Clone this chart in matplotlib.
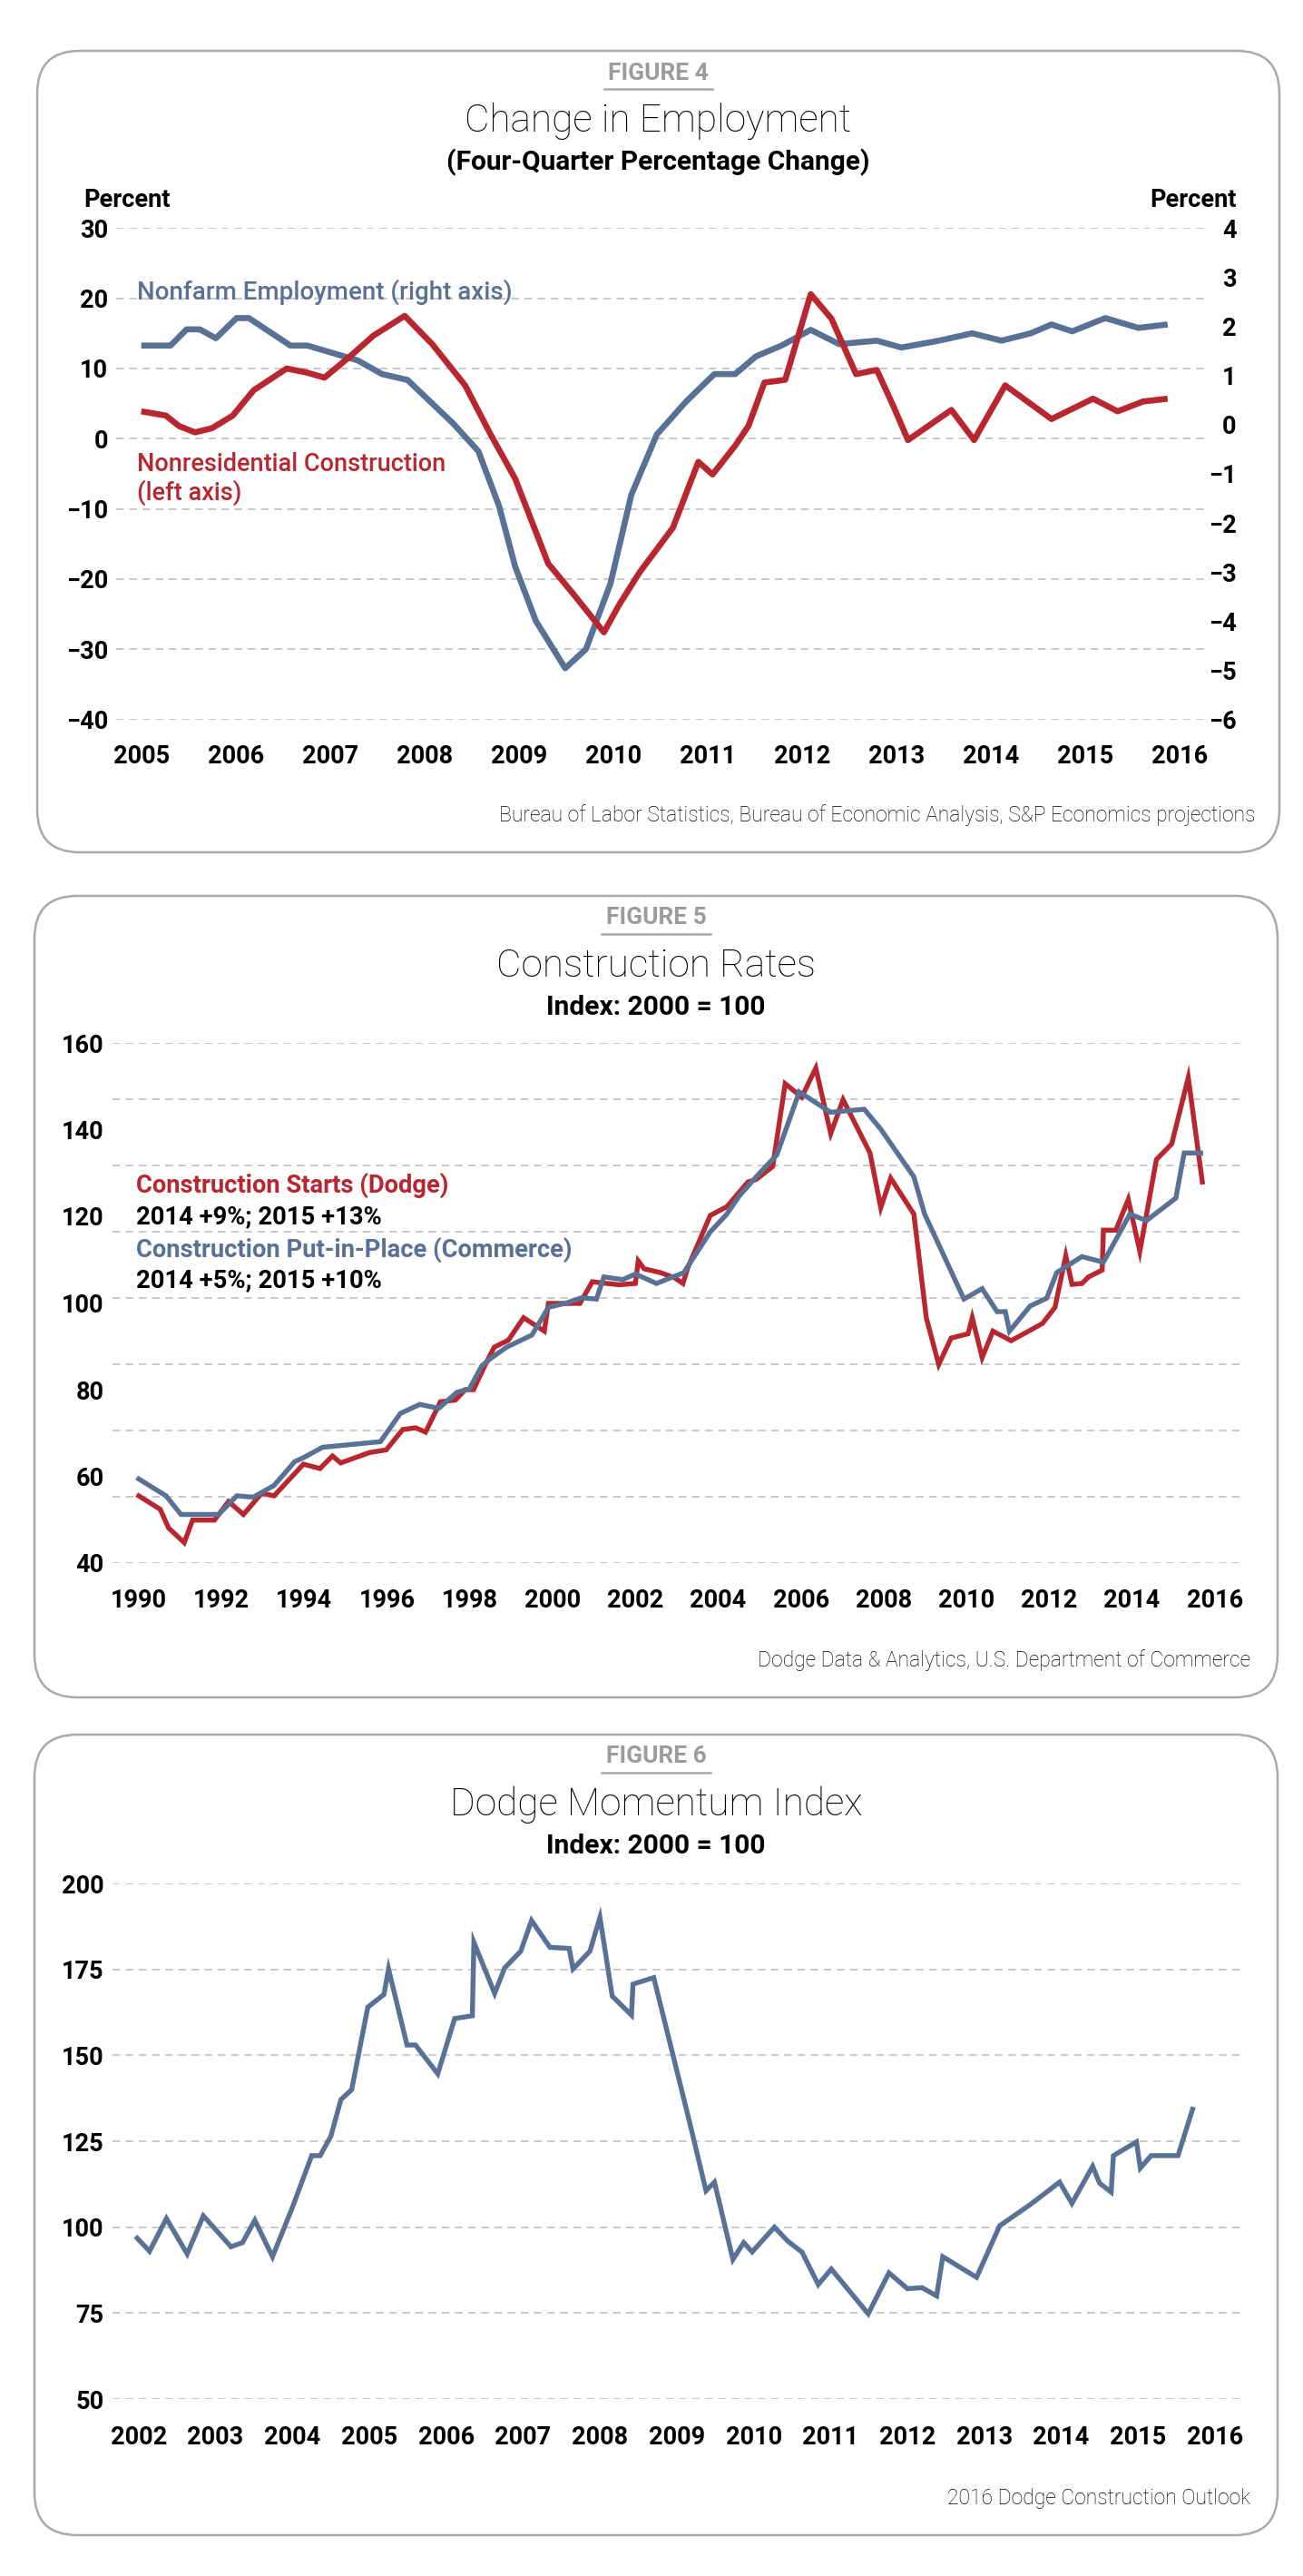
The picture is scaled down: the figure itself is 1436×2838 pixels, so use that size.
import matplotlib
matplotlib.use("Agg")
import matplotlib.pyplot as plt
from matplotlib.patches import FancyBboxPatch
from matplotlib.lines import Line2D

plt.rcParams['font.family'] = ['Roboto', 'DejaVu Sans']

# ---------------- data ----------------
# Figure 4: Change in Employment
nonfarm_years = [2005.00, 2005.31, 2005.48, 2005.62, 2005.79, 2006.01, 2006.14, 2006.58, 2006.76,
                 2007.29, 2007.55, 2007.82, 2008.30, 2008.57, 2008.79, 2008.96, 2009.18, 2009.49,
                 2009.71, 2009.97, 2010.19, 2010.46, 2010.77, 2011.07, 2011.29, 2011.51, 2011.78,
                 2012.09, 2012.39, 2012.79, 2013.05, 2013.45, 2013.80, 2014.11, 2014.42, 2014.64,
                 2014.86, 2015.21, 2015.56, 2015.87]
nonfarm_pct = [1.61, 1.61, 1.94, 1.94, 1.76, 2.17, 2.17, 1.61, 1.61,
               1.31, 1.03, 0.91, 0.03, -0.54, -1.66, -2.89, -4.00, -4.96,
               -4.57, -3.23, -1.43, -0.20, 0.47, 1.03, 1.03, 1.39, 1.61,
               1.93, 1.64, 1.71, 1.57, 1.71, 1.86, 1.71, 1.86, 2.04,
               1.90, 2.17, 1.97, 2.04]

nonres_years = [2005.00, 2005.26, 2005.40, 2005.57, 2005.75, 2005.97, 2006.19, 2006.54, 2006.76,
                2006.94, 2007.20, 2007.46, 2007.79, 2008.08, 2008.43, 2008.70, 2008.96, 2009.31,
                2009.58, 2009.90, 2010.06, 2010.28, 2010.63, 2010.90, 2011.05, 2011.29, 2011.43,
                2011.60, 2011.82, 2012.09, 2012.31, 2012.57, 2012.79, 2012.97, 2013.12, 2013.58,
                2013.82, 2014.15, 2014.64, 2015.08, 2015.34, 2015.61, 2015.87]
nonres_pct = [3.9, 3.3, 1.8, 0.9, 1.5, 3.3, 6.9, 10.0, 9.4,
              8.7, 11.6, 14.7, 17.5, 13.5, 7.6, 0.6, -5.7, -17.8,
              -22.2, -27.6, -23.7, -19.0, -12.7, -3.3, -5.1, -1.0, 1.8,
              8.0, 8.4, 20.6, 17.1, 9.2, 9.8, 4.5, -0.2, 4.1,
              -0.2, 7.6, 2.8, 5.7, 3.9, 5.3, 5.7]

emp_left_ticks = [-40, -30, -20, -10, 0, 10, 20, 30]
emp_right_ticks = [-6, -5, -4, -3, -2, -1, 0, 1, 2, 3, 4]
emp_xticks = list(range(2005, 2017))

# Figure 5: Construction Rates
starts_years = [1990.00, 1990.52, 1990.72, 1991.10, 1991.30, 1991.83, 1992.17, 1992.53, 1992.97,
                1993.27, 1993.98, 1994.38, 1994.68, 1994.88, 1995.58, 1995.98, 1996.38, 1996.69,
                1996.93, 1997.29, 1997.65, 1997.89, 1998.09, 1998.39, 1998.59, 1998.93, 1999.30,
                1999.80, 1999.90, 2000.66, 2000.96, 2001.60, 2002.00, 2002.07, 2002.21, 2002.61,
                2002.95, 2003.15, 2003.27, 2003.81, 2004.21, 2004.72, 2004.92, 2005.32, 2005.62,
                2006.02, 2006.36, 2006.72, 2007.02, 2007.67, 2007.93, 2008.17, 2008.73, 2009.03,
                2009.33, 2009.63, 2010.04, 2010.14, 2010.38, 2010.64, 2011.08, 2011.54, 2011.84,
                2012.14, 2012.40, 2012.55, 2012.79, 2012.95, 2013.28, 2013.31, 2013.61, 2013.91,
                2014.19, 2014.59, 2014.96, 2015.36, 2015.70]
starts_index = [55.5, 52.4, 48.1, 44.7, 49.9, 49.9, 54.2, 51.2, 56.1,
                55.5, 62.8, 61.8, 64.7, 63.1, 65.5, 66.1, 70.8, 71.2,
                70.2, 77.2, 77.6, 80.0, 80.0, 86.1, 89.8, 91.4, 96.6,
                93.5, 99.9, 99.9, 104.9, 104.2, 104.5, 109.7, 107.9, 107.0,
                105.8, 104.5, 108.2, 120.2, 122.2, 127.9, 128.5, 131.5, 150.6,
                147.5, 154.2, 139.1, 146.9, 134.6, 122.0, 128.8, 120.5, 96.6,
                85.8, 91.9, 92.9, 96.6, 87.4, 93.5, 91.3, 93.7, 95.3,
                99.0, 110.9, 104.3, 104.5, 106.0, 107.6, 116.8, 116.8, 123.9,
                111.9, 133.1, 136.7, 152.0, 127.9]

pip_years = [1990.00, 1990.66, 1991.02, 1991.93, 1992.37, 1992.77, 1993.27, 1993.77, 1993.98,
             1994.44, 1995.84, 1996.32, 1996.79, 1997.25, 1997.69, 1997.99, 1998.29, 1998.49,
             1998.89, 1999.50, 1999.90, 2000.30, 2000.70, 2001.06, 2001.24, 2001.70, 2002.00,
             2002.51, 2003.17, 2003.81, 2004.21, 2004.52, 2004.92, 2005.42, 2005.96, 2006.72,
             2007.53, 2007.93, 2008.73, 2008.99, 2009.94, 2010.38, 2010.74, 2010.94, 2011.04,
             2011.54, 2011.94, 2012.18, 2012.79, 2013.31, 2013.95, 2014.35, 2015.06, 2015.26,
             2015.66]
pip_index = [59.4, 55.5, 51.2, 51.2, 55.5, 55.2, 57.9, 63.4, 64.3,
             66.7, 68.0, 74.5, 76.6, 75.7, 79.4, 80.2, 85.5, 87.1,
             89.8, 92.6, 99.0, 99.9, 101.2, 100.9, 106.0, 105.4, 106.7,
             104.5, 107.0, 116.4, 120.5, 124.8, 129.1, 134.2, 148.7, 144.0,
             144.7, 140.1, 129.1, 120.5, 100.9, 103.3, 98.0, 98.0, 93.5,
             99.3, 101.1, 107.0, 110.7, 109.4, 120.5, 119.0, 124.2, 134.6,
             134.6]

rates_yticks = [40, 60, 80, 100, 120, 140, 160]
rates_xticks = list(range(1990, 2017, 2))

# Figure 6: Dodge Momentum Index
dmi_years = [2001.98, 2002.14, 2002.36, 2002.63, 2002.84, 2003.20, 2003.35, 2003.51, 2003.74,
             2004.00, 2004.25, 2004.36, 2004.50, 2004.63, 2004.77, 2004.98, 2005.19, 2005.25,
             2005.49, 2005.60, 2005.89, 2006.11, 2006.34, 2006.36, 2006.63, 2006.76, 2006.97,
             2007.11, 2007.35, 2007.60, 2007.65, 2007.87, 2008.00, 2008.16, 2008.41, 2008.43,
             2008.70, 2009.17, 2009.38, 2009.49, 2009.73, 2009.87, 2009.98, 2010.27, 2010.44,
             2010.63, 2010.84, 2011.01, 2011.49, 2011.76, 2012.00, 2012.19, 2012.38, 2012.46,
             2012.90, 2013.20, 2013.60, 2013.98, 2014.14, 2014.41, 2014.50, 2014.65, 2014.68,
             2014.98, 2015.03, 2015.17, 2015.52, 2015.71]
dmi_index = [96.8, 93.0, 102.5, 92.2, 103.3, 94.3, 95.5, 102.0, 91.4,
             105.8, 120.8, 120.8, 126.5, 137.1, 140.0, 164.0, 167.7, 175.1,
             153.0, 153.0, 144.6, 160.7, 161.5, 182.9, 168.0, 175.4, 180.3,
             189.2, 181.4, 181.1, 175.1, 180.3, 190.1, 167.2, 161.7, 170.7,
             172.6, 130.2, 110.6, 113.1, 90.6, 95.5, 92.8, 100.0, 96.0,
             92.7, 83.3, 87.8, 74.8, 86.7, 82.1, 82.4, 80.0, 91.4,
             85.4, 100.4, 106.6, 113.1, 106.9, 117.7, 112.8, 110.2, 120.8,
             124.8, 117.2, 120.8, 120.8, 134.3]

dmi_yticks = [50, 75, 100, 125, 150, 175, 200]
dmi_xticks = list(range(2002, 2017))

# ---------------- style ----------------
W, H, DPI = 1436, 2838, 100
BLUE = '#5A7196'
RED = '#B8262F'
GRID = '#BABABA'
BORDER = '#A9A9AD'
FIGLAB = '#9C9CA0'
TXT = '#000000'
TICKW = 'semibold'

fig = plt.figure(figsize=(W / DPI, H / DPI), dpi=DPI)
fig.patch.set_facecolor('white')


def ftext(x, y, s, **kw):
    fig.text(x / W, 1 - y / H, s, **kw)


def axes_px(l, t, r, b, **kw):
    return fig.add_axes([l / W, 1 - b / H, (r - l) / W, (b - t) / H], **kw)


def panel(l, t, r, b):
    p = FancyBboxPatch((l / DPI, (H - b) / DPI), (r - l) / DPI, (b - t) / DPI,
                       boxstyle="round,pad=0,rounding_size=0.47",
                       transform=fig.dpi_scale_trans, fill=False,
                       ec=BORDER, lw=1.8, zorder=0)
    fig.add_artist(p)


def header(cx, top, num, title, subtitle):
    ftext(cx, top + 31.5, f"FIGURE {num}", ha='center', va='baseline', fontsize=19,
          fontweight='bold', color=FIGLAB)
    fig.add_artist(Line2D([(cx - 60) / W, (cx + 60) / W], [1 - (top + 42) / H] * 2,
                          transform=fig.transFigure, color=BORDER, lw=1.8))
    ftext(cx, top + 89, title, ha='center', va='baseline', fontsize=30.5,
          fontweight='light', color=TXT)
    ftext(cx, top + 131, subtitle, ha='center', va='baseline', fontsize=21.5,
          fontweight=TICKW, color=TXT)


def source(right, bottom, s):
    ftext(right, bottom - 34, s, ha='right', va='baseline', fontsize=16.5,
          fontweight='light', color=TXT)


def clean(ax):
    for sp in ax.spines.values():
        sp.set_visible(False)
    ax.tick_params(length=0)


def hgrid(ax, ys):
    for y in ys:
        ax.axhline(y, color=GRID, lw=1.1, ls=(0, (5.5, 4)), zorder=1)


TICKFS = 19.5

# ---------------- Figure 4 ----------------
panel(41, 56, 1410, 939)
header(725.5, 56, 4, "Change in Employment", "(Four-Quarter Percentage Change)")
ftext(92, 227.5, "Percent", ha='left', va='baseline', fontsize=TICKFS, fontweight=TICKW, color=TXT)
ftext(1362.5, 227.5, "Percent", ha='right', va='baseline', fontsize=TICKFS, fontweight=TICKW, color=TXT)

rect1 = (128.2, 251.4, 1332.4, 792.5)
x1lim = (2004.736, 2016.308)
axG = axes_px(*rect1)
axR = axes_px(*rect1)
axL = axes_px(*rect1)
for a, z in ((axG, 0), (axR, 1), (axL, 2)):
    a.set_zorder(z)
    a.set_xlim(*x1lim)
    clean(a)
axR.patch.set_visible(False)
axL.patch.set_visible(False)

axG.set_ylim(-40, 30)
hgrid(axG, emp_left_ticks)
axG.set_xticks([])
axG.set_yticks([])

axR.set_ylim(-6, 4)
axR.plot(nonfarm_years, nonfarm_pct, color=BLUE, lw=4.8, solid_capstyle='butt', solid_joinstyle='round')
axR.yaxis.tick_right()
axR.set_yticks(emp_right_ticks)
axR.tick_params(axis='y', labelsize=TICKFS, pad=21.8)
for lab in axR.get_yticklabels():
    lab.set_horizontalalignment('right')
    lab.set_fontweight(TICKW)
axR.set_xticks([])

axL.set_ylim(-40, 30)
axL.plot(nonres_years, nonres_pct, color=RED, lw=4.8, solid_capstyle='butt', solid_joinstyle='round')
axL.set_yticks(emp_left_ticks)
axL.set_xticks(emp_xticks)
axL.tick_params(axis='y', labelsize=TICKFS, pad=6.5)
axL.tick_params(axis='x', labelsize=TICKFS, pad=19.5)
for lab in axL.get_yticklabels() + axL.get_xticklabels():
    lab.set_fontweight(TICKW)

ftext(151, 330, "Nonfarm Employment (right axis)", ha='left', va='baseline', fontsize=20,
      fontweight='medium', color=BLUE)
ftext(151, 519.3, "Nonresidential Construction", ha='left', va='baseline', fontsize=19.5,
      fontweight='medium', color=RED)
ftext(151, 550.7, "(left axis)", ha='left', va='baseline', fontsize=19.5,
      fontweight='medium', color=RED)
source(1383, 939, "Bureau of Labor Statistics, Bureau of Economic Analysis, S&P Economics projections")

# ---------------- Figure 5 ----------------
panel(38, 987, 1408, 1870)
header(723, 987, 5, "Construction Rates", "Index: 2000 = 100")
ax5 = axes_px(123.6, 1149, 1370.9, 1722)
clean(ax5)
ax5.set_xlim(1989.358, 2016.705)
ax5.set_ylim(40, 160)
grid5 = [40 + 15.3 * i for i in range(8)] + [160]
hgrid(ax5, grid5)
ax5.plot(starts_years, starts_index, color=RED, lw=3.9, zorder=3, solid_joinstyle='miter')
ax5.plot(pip_years, pip_index, color=BLUE, lw=3.9, zorder=4, solid_joinstyle='miter')
ax5.set_yticks(rates_yticks)
ax5.set_xticks(rates_xticks)
ax5.tick_params(axis='y', labelsize=TICKFS, pad=6.5)
ax5.tick_params(axis='x', labelsize=TICKFS, pad=20.5)
for lab in ax5.get_yticklabels() + ax5.get_xticklabels():
    lab.set_fontweight(TICKW)

ftext(150, 1314, "Construction Starts (Dodge)", ha='left', va='baseline', fontsize=19.7,
      fontweight=TICKW, color=RED)
ftext(150, 1348, "2014 +9%; 2015 +13%", ha='left', va='baseline', fontsize=19.7,
      fontweight=TICKW, color=TXT)
ftext(150, 1385, "Construction Put-in-Place (Commerce)", ha='left', va='baseline', fontsize=19.7,
      fontweight=TICKW, color=BLUE)
ftext(150, 1418, "2014 +5%; 2015 +10%", ha='left', va='baseline', fontsize=19.7,
      fontweight=TICKW, color=TXT)
source(1378, 1870, "Dodge Data & Analytics, U.S. Department of Commerce")

# ---------------- Figure 6 ----------------
panel(38, 1911, 1408, 2793)
header(723, 1911, 6, "Dodge Momentum Index", "Index: 2000 = 100")
ax6 = axes_px(123.6, 2075, 1370.9, 2643)
clean(ax6)
ax6.set_xlim(2001.654, 2016.378)
ax6.set_ylim(50, 200)
hgrid(ax6, dmi_yticks)
ax6.plot(dmi_years, dmi_index, color=BLUE, lw=3.9, zorder=3, solid_joinstyle='miter')
ax6.set_yticks(dmi_yticks)
ax6.set_xticks(dmi_xticks)
ax6.tick_params(axis='y', labelsize=TICKFS, pad=6.5)
ax6.tick_params(axis='x', labelsize=TICKFS, pad=21)
for lab in ax6.get_yticklabels() + ax6.get_xticklabels():
    lab.set_fontweight(TICKW)
source(1378, 2793, "2016 Dodge Construction Outlook")

fig.savefig("out.png", dpi=DPI, facecolor='white')
